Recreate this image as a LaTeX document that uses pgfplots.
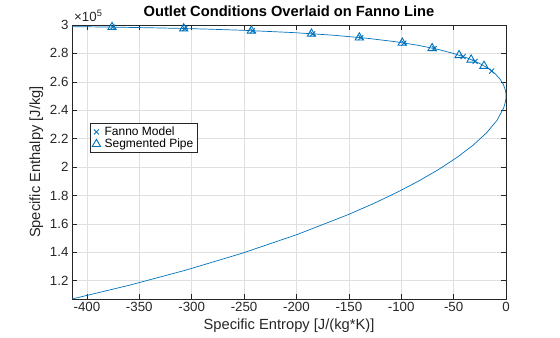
\documentclass[border=0pt]{standalone}
\usepackage{fontspec}
\setmainfont{Liberation Sans}
\usepackage{pgfplots}
\pgfplotsset{compat=1.18}
\definecolor{mblue}{HTML}{0072BD}
\definecolor{axgray}{HTML}{262626}
\definecolor{gridgray}{HTML}{DFDFDF}
\begin{document}
\begin{tikzpicture}
\begin{axis}[name=ax, scale only axis, width=434pt, height=274pt,
 xmin=-414.22, xmax=0, ymin=1.07143, ymax=3,
 xtick={-400,-350,-300,-250,-200,-150,-100,-50,0},
 xticklabels={-400,-350,-300,-250,-200,-150,-100,-50,0},
 ytick={1.2,1.4,1.6,1.8,2,2.2,2.4,2.6,2.8,3},
 yticklabels={1.2,1.4,1.6,1.8,2,2.2,2.4,2.6,2.8,3},
 tick align=inside, tick pos=both, major tick length=5pt,
 grid=major, major grid style={gridgray, line width=0.5pt},
 axis line style={axgray, line width=0.5pt}, tick style={axgray, line width=0.5pt},
 ticklabel style={font=\fontsize{13.3}{15}\selectfont, text=axgray},
 xlabel={Specific Entropy [J/(kg*K)]}, ylabel={Specific Enthalpy [J/kg]},
 label style={font=\fontsize{14.7}{16}\selectfont, text=axgray},
 title={Outlet Conditions Overlaid on Fanno Line},
 title style={font=\bfseries\fontsize{14.7}{16}\selectfont, yshift=-1.5pt},
 legend style={at={(0.0415,0.642)}, anchor=north west, font=\fontsize{12}{13}\selectfont, draw=axgray, line width=0.5pt, inner xsep=2pt, inner ysep=1.5pt, row sep=-2pt, column sep=2pt},
 legend cell align=left,
]
\addplot[mblue, line width=0.7pt, forget plot] coordinates {
(-414.69,2.98862) (-410.66,2.98826) (-391.4,2.98655) (-373.4,2.98473)
(-340.7,2.98068) (-311.8,2.97619) (-285.9,2.97124) (-251.6,2.96296)
(-203.9,2.94695) (-165.2,2.92826) (-133.1,2.90698) (-106.4,2.88323)
(-83.96,2.85714) (-65.18,2.82886) (-49.49,2.79851) (-36.49,2.76625)
(-25.89,2.73224) (-17.38,2.69663) (-10.77,2.65957) (-5.87,2.62123)
(-2.53,2.58176) (-0.61,2.54130) (-0.216,2.52511) (-0.054,2.51252)
(0,2.5) (-0.054,2.48754) (-0.216,2.47513) (-0.58,2.45801)
(-2.27,2.41546) (-8.60,2.32919) (-18.42,2.24215) (-31.22,2.15517)
(-46.57,2.06897) (-64.10,1.98413) (-83.48,1.90114) (-104.46,1.82039)
(-126.75,1.74216) (-150.18,1.66667) (-199.64,1.52439) (-251.63,1.39405)
(-305.17,1.27551) (-359.55,1.16822) (-414.22,1.07143)
};
\addplot[only marks, mark=x, mark size=3.5pt, mblue, line width=0.9pt] coordinates {
(-375.5,2.9850) (-306.5,2.9752) (-242,2.9597) (-184.5,2.9376) (-138.5,2.9106)
(-97.5,2.8729) (-68.5,2.8339) (-41,2.7774) (-29.5,2.7438) (-13.6,2.6755)
};
\addlegendentry{Fanno Model}
\addplot[only marks, mark=triangle, mark size=4.8pt, mblue, line width=0.9pt] coordinates {
(-376,2.9850) (-307.6,2.9754) (-243,2.9601) (-185.7,2.9382) (-140,2.9116)
(-99,2.8746) (-70.5,2.8369) (-44.8,2.7869) (-33.3,2.7560) (-21,2.7118)
};
\addlegendentry{Segmented Pipe}
\end{axis}
\node[anchor=south west, font=\fontsize{13.3}{15}\selectfont, text=axgray, inner sep=0pt] at ([xshift=2pt, yshift=3pt]ax.north west) {×10\textsuperscript{5}};
\pgfresetboundingbox
\path ([shift={(-72pt,-38pt)}]ax.south west) rectangle ([shift={(54pt,25pt)}]ax.north east);
\end{tikzpicture}
\end{document}
